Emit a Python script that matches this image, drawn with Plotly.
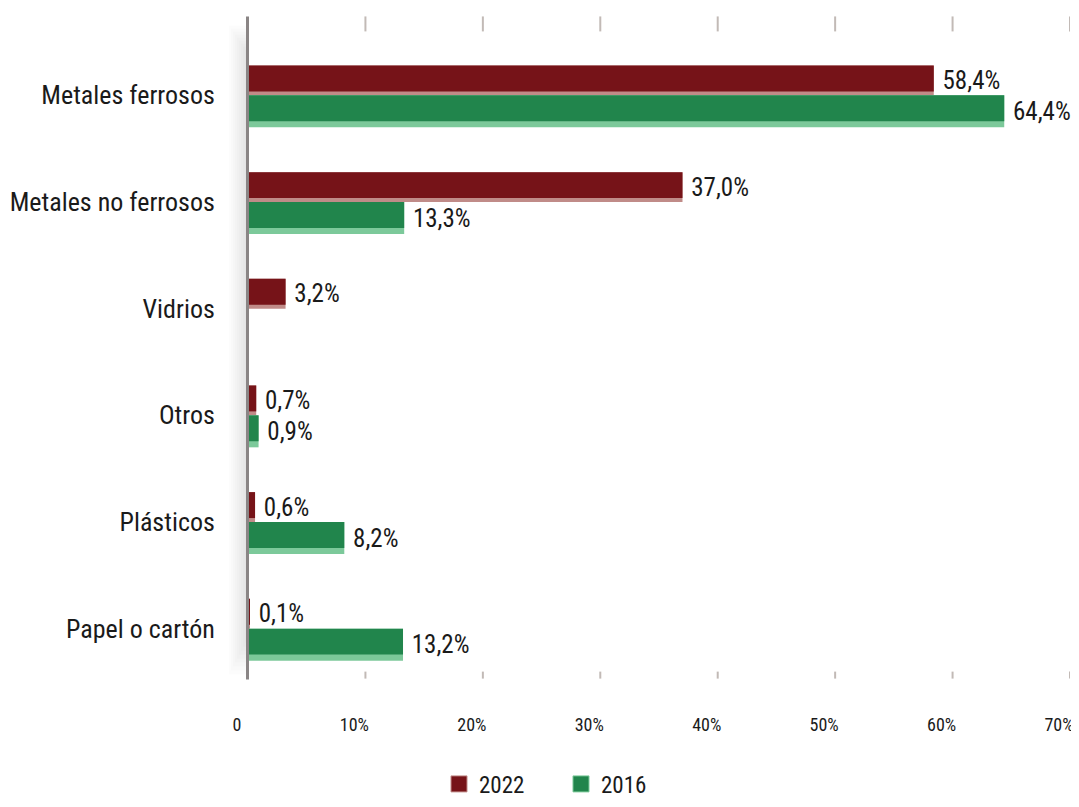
import plotly.graph_objects as go

categories = ["Metales ferrosos", "Metales no ferrosos", "Vidrios", "Otros", "Plásticos", "Papel o cartón"]
v2022 = [58.4, 37.0, 3.2, 0.7, 0.6, 0.1]
v2016 = [64.4, 13.3, None, 0.9, 8.2, 13.2]
tick_vals = [0, 10, 20, 30, 40, 50, 60, 70]
tick_text = ["0", "10%", "20%", "30%", "40%", "50%", "60%", "70%"]

FONT = "Roboto Condensed, Liberation Sans Narrow, DejaVu Sans Condensed, sans-serif"
OFF = 8  # page body margin
W, H = 1079 - OFF, 807 - OFF
# plot area in page pixels
PX0, PX1, PY0, PY1 = 248, 1070, 41.6, 682.4
L, R, T, B = PX0 - OFF, (OFF + W) - PX1, PY0 - OFF, (OFF + H) - PY1
PW = PX1 - PX0
PH = PY1 - PY0

def px_x(px):
    return (px - PX0) / PW

def px_y(py):
    return (PY1 - py) / PH

RED_D, RED_L = "#761318", "#c08b88"
GRN_D, GRN_L = "#21854c", "#7cc99a"

fig = go.Figure()
# light (full) bars carry the labels
fig.add_trace(go.Bar(y=categories, x=v2022, orientation="h", offset=-0.28, width=0.28,
                     marker=dict(color=RED_L, line=dict(width=0)), showlegend=False,
                     texttemplate="\u00a0%{x:.1f}%", textposition="outside",
                     textfont=dict(size=25, color="#1a1a1a", family=FONT),
                     constraintext="none", cliponaxis=False, hoverinfo="skip"))
fig.add_trace(go.Bar(y=categories, x=v2016, orientation="h", offset=0, width=0.30,
                     marker=dict(color=GRN_L, line=dict(width=0)), showlegend=False,
                     texttemplate="\u00a0%{x:.1f}%", textposition="outside",
                     textfont=dict(size=25, color="#1a1a1a", family=FONT),
                     constraintext="none", cliponaxis=False, hoverinfo="skip"))
# dark bars
fig.add_trace(go.Bar(y=categories, x=v2022, orientation="h", offset=-0.28, width=0.243,
                     marker=dict(color=RED_D, line=dict(width=0)), name="2022", showlegend=False))
fig.add_trace(go.Bar(y=categories, x=v2016, orientation="h", offset=0, width=0.243,
                     marker=dict(color=GRN_D, line=dict(width=0)), name="2016", showlegend=False))
# legend proxies (larger square swatches)
for name, c, lc in [("2022", RED_D, RED_L), ("2016", GRN_D, GRN_L)]:
    fig.add_trace(go.Scatter(x=[None], y=[None], mode="markers", name=name,
                             marker=dict(symbol="square", size=16, color=c,
                                         line=dict(color=lc, width=1))))

shapes = []
# soft shadow left of the axis
for i in range(9):
    shapes.append(dict(type="rect", xref="paper", yref="paper",
                       x0=px_x(229 + 2 * i), x1=px_x(247), y0=px_y(675 - 4 * i), y1=px_y(25 + 3 * i),
                       fillcolor="rgba(0,0,0,0.011)", line=dict(width=0), layer="below"))
# axis line
shapes.append(dict(type="line", xref="paper", yref="paper", x0=px_x(247.5), x1=px_x(247.5),
                   y0=px_y(680), y1=px_y(16), line=dict(color="#8a8585", width=3)))
# tick marks top and bottom
for v in tick_vals[1:]:
    shapes.append(dict(type="line", xref="x", yref="paper", x0=v, x1=v,
                       y0=px_y(31), y1=px_y(16), line=dict(color="#c2bab6", width=2)))
    shapes.append(dict(type="line", xref="x", yref="paper", x0=v, x1=v,
                       y0=px_y(679), y1=px_y(672), line=dict(color="#c2bab6", width=2)))

fig.update_layout(
    width=W, height=H,
    margin=dict(l=L, r=R, t=T, b=B, autoexpand=False),
    paper_bgcolor="white", plot_bgcolor="white",
    barmode="overlay",
    separators=",.",
    font=dict(family=FONT, color="#1a1a1a"),
    shapes=shapes,
    xaxis=dict(range=[0, 70], tickvals=tick_vals, ticktext=tick_text,
               showgrid=False, zeroline=False, showline=False, automargin=False,
               ticks="outside", ticklen=26, tickcolor="rgba(0,0,0,0)",
               ticklabelshift=-11, ticklabeloverflow="allow",
               tickfont=dict(size=18, color="#1a1a1a")),
    yaxis=dict(autorange="reversed", showgrid=False, zeroline=False, showline=False,
               automargin=False,
               ticks="outside", ticklen=27, tickcolor="rgba(0,0,0,0)",
               tickfont=dict(size=26, color="#1a1a1a")),
    legend=dict(orientation="h", x=px_x(561), xanchor="center", y=px_y(806), yanchor="bottom",
                font=dict(size=23, color="#1a1a1a"), traceorder="normal",
                entrywidth=77, bgcolor="rgba(0,0,0,0)"),
)

fig.write_html("out.html")
